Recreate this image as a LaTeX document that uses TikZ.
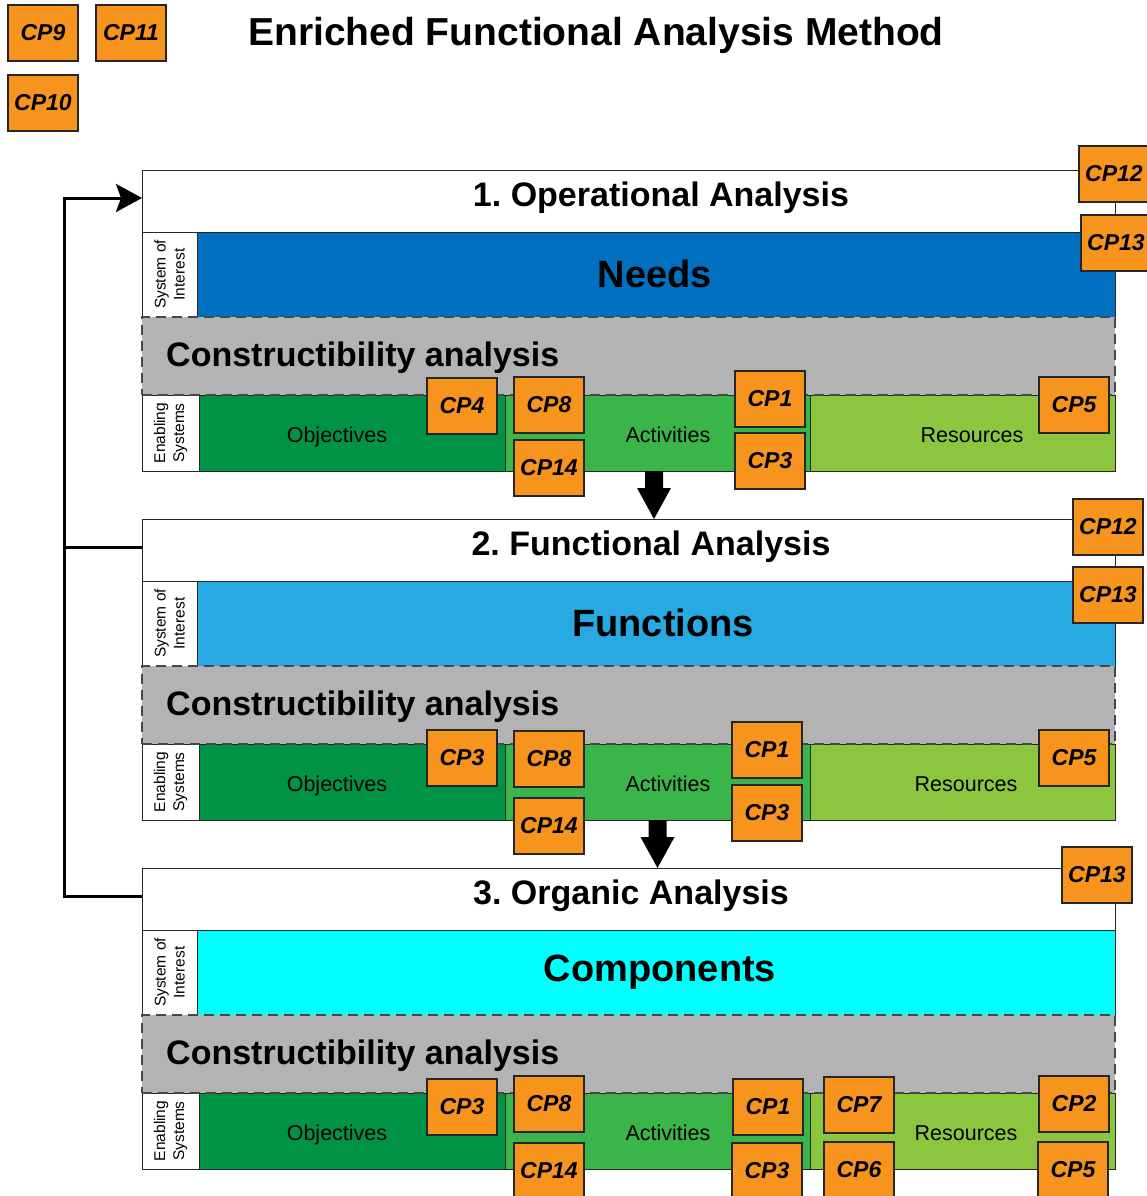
\documentclass[tikz,border=0pt]{standalone}
\usepackage{fontspec}
\setmainfont{Liberation Sans}
\frenchspacing
\usetikzlibrary{arrows.meta,calc,positioning}
\definecolor{ink}{HTML}{262626}
\definecolor{cporange}{HTML}{F7941E}
\definecolor{needblue}{HTML}{0070C0}
\definecolor{funcblue}{HTML}{29A9E1}
\definecolor{compcyan}{HTML}{00FFFF}
\definecolor{objgreen}{HTML}{009245}
\definecolor{actgreen}{HTML}{39B54A}
\definecolor{resgreen}{HTML}{8CC63F}
\definecolor{consgray}{HTML}{B3B3B3}
\tikzset{>=Stealth,
  rowcell/.style={draw=ink,line width=1pt,inner sep=0pt,outer sep=0pt,anchor=north west},
  consrow/.style={rowcell,fill=consgray,draw=ink!85,dash pattern=on 10pt off 6pt,line width=1.6pt},
  cpbox/.style={draw=ink,fill=cporange,line width=1.4pt,minimum width=70pt,minimum height=56pt,inner sep=0pt,
    font=\fontsize{23}{26}\selectfont\bfseries\itshape},
  sidetext/.style={rotate=90,align=center,inner sep=0pt,font=\fontsize{15.5}{19}\selectfont},
  celltext/.style={inner sep=0pt,anchor=base,font=\fontsize{21.5}{24}\selectfont},
  bigtext/.style={inner sep=0pt,font=\fontsize{38}{44}\selectfont\bfseries},
  headtext/.style={inner sep=0pt,font=\fontsize{34}{40}\selectfont\bfseries},
  feedback/.style={draw=black,line width=3pt,-{Stealth[length=26pt,width=28pt,inset=5pt]}},
  fbline/.style={draw=black,line width=3pt}}
\newcommand\blkarrow[2]{\fill[black] ($(#1)+(-9,0)$) -- ++(18,0) -- ++(0,17) -- ++(8,0) -- (#2) -- ($(#2)+(-17,-31)$) -- ++(8,0) -- cycle;}

\begin{document}
\begin{tikzpicture}[x=1pt,y=-1pt]
\useasboundingbox (0,0) rectangle (1146,1196);
\node[inner sep=0pt,font=\fontsize{39}{46}\selectfont\bfseries] (title) at (596,35) {Enriched Functional Analysis Method};
% three analysis blocks
\foreach \i/\y/\tx/\ttl/\sx/\soi/\col/\rx in {1/170/661/{1. Operational Analysis}/655/Needs/needblue/972,
  2/519/651/{2. Functional Analysis}/663/Functions/funcblue/966,
  3/868/631/{3. Organic Analysis}/660/Components/compcyan/966} {
  \node[rowcell,fill=white,minimum width=973pt,minimum height=62pt] (head\i) at (142,\y) {};
  \node[headtext] (ttl\i) at (\tx,\y+28) {\ttl};
  \node[rowcell,fill=white,minimum width=55pt,minimum height=85pt] (soilab\i) at (head\i.south west) {};
  \node[rowcell,fill=\col,minimum width=918pt,minimum height=85pt] (soi\i) at (soilab\i.north east) {};
  \node[bigtext] at (\sx,\y+104) {\soi};
  \node[sidetext] at (soilab\i.center) {System of\\Interest};
  \node[rowcell,fill=white,minimum width=57pt,minimum height=76pt] (enlab\i) at ($(soilab\i.south west)+(0,78)$) {};
  \node[sidetext] at (enlab\i.center) {Enabling\\Systems};
  \node[rowcell,fill=objgreen,minimum width=306pt,minimum height=76pt] (obj\i) at (enlab\i.north east) {};
  \node[rowcell,fill=actgreen,minimum width=305pt,minimum height=76pt] (act\i) at (obj\i.north east) {};
  \node[rowcell,fill=resgreen,minimum width=305pt,minimum height=76pt] (res\i) at (act\i.north east) {};
  \node[celltext] at ($(obj\i.center -| 337,0)+(0,9)$) {Objectives};
  \node[celltext] at ($(act\i.center -| 668,0)+(0,9)$) {Activities};
  \node[celltext] at ($(res\i.center -| \rx,0)+(0,9)$) {Resources};
  \node[consrow,minimum width=973pt,minimum height=78pt] (cons\i) at (soilab\i.south west) {};
  \node[headtext,anchor=west] (constxt\i) at ($(cons\i.west)+(24,2)$) {Constructibility analysis};
}
% flow between blocks
\coordinate (d1) at ($(act1.south)+(-3.5,0)$);\coordinate (d2) at (act2.south);
\blkarrow{d1}{d1 |- head2.north}
\blkarrow{d2}{d2 |- head3.north}
\coordinate (fb) at ($(head3.west)+(-78,-3)$);
\draw[feedback] ($(head3.west)+(0,-3)$) -- (fb) |- ($(head1.west)+(0,-3)$);
\draw[fbline] ($(head2.west)+(0,-3)$) -- ++(-78,0);
% constructibility points
\foreach \n/\x/\y/\t in {cp9/43/33/CP9,cp11/131/33/CP11,cp10/43/103/CP10,
  op12/1114/174/CP12,op13/1116/243/CP13,op4/462/406/CP4,op8/549/405/CP8,op14/549/468/CP14,
  op1/770/399/CP1,op3/770/461/CP3,op5/1074/405/CP5,
  fn12/1108/527/CP12,fn13/1108/595/CP13,fn3a/462/758/CP3,fn8/549/759/CP8,fn14/549/826/CP14,
  fn1/767/750/CP1,fn3b/767/813/CP3,fn5/1074/758/CP5,
  og13/1097/875/CP13,og3a/462/1107/CP3,og8/549/1104/CP8,og14/549/1171/CP14,og1/768/1107/CP1,
  og3b/767/1171/CP3,og7/859/1105/CP7,og6/859/1170/CP6,og2/1074/1104/CP2,og5/1073/1170/CP5} {
  \node[cpbox] (\n) at (\x,\y) {\t};
}
\end{tikzpicture}
\end{document}
